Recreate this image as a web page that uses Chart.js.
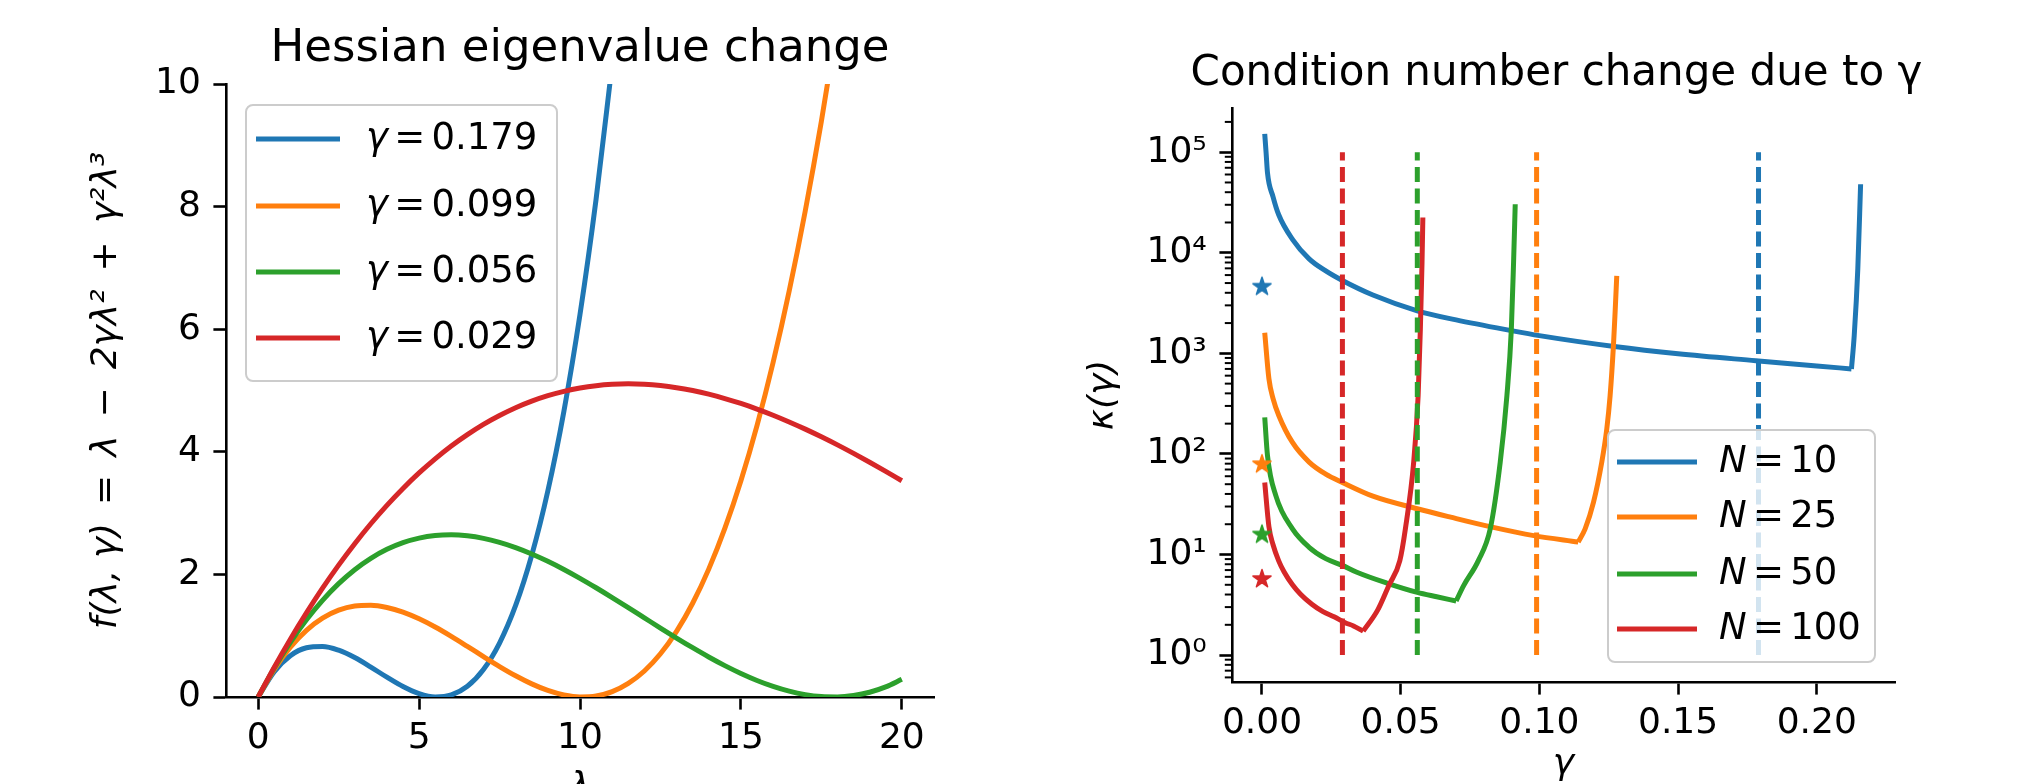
<!DOCTYPE html>
<html>
<head>
<meta charset="utf-8">
<script src="https://cdn.jsdelivr.net/npm/chart.js@4.4.1/dist/chart.umd.min.js"></script>
<style>
  html, body { margin: 0; padding: 0; background: #fff; }
  #wrap { position: relative; width: 2021px; height: 784px; overflow: hidden; }
  canvas { position: absolute; top: 0; }
</style>
</head>
<body>
<div id="wrap">
  <canvas id="left" width="1000" height="784" style="left:0px"></canvas>
  <!-- wider than the window so the title centres over the plot; the overflow is hidden -->
  <canvas id="right" width="1113" height="784" style="left:1000px"></canvas>
</div>
<script>
// ---- left panel: f(lambda, gamma), every 0.5 in lambda
var lam = [0,0.5,1,1.5,2,2.5,3,3.5,4,4.5,5,5.5,6,6.5,7,7.5,8,8.5,9,9.5,10,
           10.5,11,11.5,12,12.5,13,13.5,14,14.5,15,15.5,16,16.5,17,17.5,18,18.5,19,19.5,20];
var fG179 = [0,0.414,0.674,0.803,0.824,0.763,0.643,0.488,0.323,0.170,0.055,0.001,0.033,0.174,
             0.448,0.880,1.493,2.312,3.360,4.662,6.241,8.122,10.33];
var fG099 = [0,0.452,0.812,1.088,1.286,1.416,1.483,1.495,1.459,1.384,1.275,1.141,0.989,0.826,
             0.660,0.497,0.346,0.214,0.107,0.034,0.001,0.016,0.087,0.221,0.424,0.705,1.071,
             1.529,2.086,2.750,3.528,4.428,5.457,6.622,7.930,9.390,11.01];
var fG056 = [0,0.472,0.891,1.259,1.577,1.849,2.077,2.262,2.409,2.518,2.592,2.634,2.645,2.629,
             2.588,2.523,2.438,2.334,2.214,2.081,1.936,1.782,1.622,1.457,1.291,1.125,0.962,
             0.804,0.653,0.512,0.384,0.270,0.173,0.095,0.039,0.007,0.001,0.024,0.078,0.165,0.288];
var fG029 = [0,0.486,0.943,1.372,1.775,2.151,2.501,2.826,3.126,3.402,3.655,3.885,4.094,4.280,
             4.447,4.592,4.719,4.826,4.915,4.986,5.041,5.079,5.101,5.109,5.101,5.080,5.046,
             4.999,4.940,4.869,4.788,4.697,4.597,4.487,4.370,4.245,4.113,3.974,3.830,3.681,3.528];
var gammaLabels = ['0.179', '0.099', '0.056', '0.029'];
var lamTicks = [0, 5, 10, 15, 20];
var fTicks = [0, 2, 4, 6, 8, 10];

// ---- right panel: condition number kappa(gamma), log scale
var gN10  = [0.001,0.0015,0.002,0.004,0.006,0.011,0.017,0.023,0.029,0.04,0.056,0.07,0.09,0.1,
             0.127,0.15,0.178,0.2,0.2125,0.2135,0.2148,0.2158];
var kN10  = [152000,98000,62000,36000,24000,13600,8700,6600,5300,3800,2650,2150,1680,1500,
             1170,990,845,750,700,1500,7000,48000];
var gN25  = [0.001,0.0025,0.004,0.0061,0.011,0.017,0.023,0.029,0.04,0.056,0.068,0.083,0.098,
             0.114,0.1165,0.1195,0.1225,0.1243,0.1255,0.1267,0.1273,0.1279];
var kN25  = [1600,560,355,240,130,83,63,52,38,28.5,23.5,18.7,15.4,13.3,18,33,83,177,379,
             1190,2550,5900];
var gN50  = [0.001,0.002,0.005,0.011,0.017,0.023,0.029,0.034,0.045,0.056,0.063,0.070,0.0727,
             0.078,0.0823,0.0859,0.0883,0.0899,0.0907,0.0913];
var kN50  = [231,96,38.5,18,11.8,9.1,7.8,6.7,5.2,4.2,3.8,3.45,4.9,8.7,18,83,380,1740,8000,30400];
var gN100 = [0.001,0.0025,0.004,0.006,0.008,0.011,0.014,0.018,0.022,0.026,0.030,0.033,0.0365,
             0.0417,0.0457,0.0497,0.0517,0.0547,0.0563,0.0571,0.0577,0.058];
var kN100 = [52,19,12.5,8.7,6.7,5.0,4.0,3.2,2.7,2.4,2.1,1.95,1.73,2.8,4.9,8.7,18,83,380,1740,
             8000,22400];
var starKappa = [4600, 79, 15.8, 5.7];          // stars at gamma = 0
var vlineGamma = [0.179, 0.099, 0.056, 0.029];  // dashed lines, kappa 1 .. 1e5
var vlineKappa = [1, 100000];
var nLabels = ['10', '25', '50', '100'];
var gammaTicks = [0, 0.05, 0.10, 0.15, 0.20];
var kappaTicks = [1, 10, 100, 1000, 10000, 100000];
var kappaTickLabels = ['10\u2070', '10\u00b9', '10\u00b2', '10\u00b3', '10\u2074', '10\u2075'];

var colors = ['#1f77b4', '#ff7f0e', '#2ca02c', '#d62728'];
var FONT = "'DejaVu Sans', sans-serif";

function pts(xs, ys) {
  return ys.map(function (y, i) { return {x: xs[i], y: y}; });
}

// split a curve at its lowest point so the kink stays sharp
function splitAtMin(xs, ys) {
  var m = 0;
  for (var i = 1; i < ys.length; i++) if (ys[i] < ys[m]) m = i;
  var all = pts(xs, ys);
  return [all.slice(0, m + 1), all.slice(m)];
}

function starImage(color) {
  var c = document.createElement('canvas');
  c.width = 24; c.height = 24;
  var g = c.getContext('2d');
  g.beginPath();
  for (var k = 0; k < 10; k++) {
    var r = k % 2 === 0 ? 9.5 : 9.5 * 0.382;
    var a = -Math.PI / 2 + k * Math.PI / 5;
    g.lineTo(12 + r * Math.cos(a), 12 + r * Math.sin(a));
  }
  g.closePath();
  g.fillStyle = color; g.fill();
  g.strokeStyle = color; g.lineWidth = 1.5; g.lineJoin = 'round'; g.stroke();
  return c;
}

// matplotlib-like legend box drawn onto the canvas
var mplLegend = {
  id: 'mplLegend',
  afterDraw: function (chart, args, o) {
    var ctx = chart.ctx;
    ctx.save();
    ctx.beginPath();
    ctx.roundRect(o.x, o.y, o.w, o.h, 7);
    ctx.fillStyle = 'rgba(255,255,255,0.8)';
    ctx.fill();
    ctx.strokeStyle = '#cccccc';
    ctx.lineWidth = 2;
    ctx.stroke();
    var gap = o.size * 0.17;
    for (var i = 0; i < o.values.length; i++) {
      var y = o.rows[i];
      ctx.beginPath();
      ctx.strokeStyle = colors[i];
      ctx.lineWidth = 5;
      ctx.moveTo(o.h0, y); ctx.lineTo(o.h1, y);
      ctx.stroke();
      ctx.fillStyle = '#000';
      ctx.textBaseline = 'middle';
      ctx.textAlign = 'left';
      var x = o.tx;
      ctx.font = 'italic ' + o.size + 'px ' + FONT;
      ctx.fillText(o.symbol, x, y);
      x += ctx.measureText(o.symbol).width + gap;
      ctx.font = o.size + 'px ' + FONT;
      ctx.fillText('=', x, y);
      x += ctx.measureText('=').width + gap;
      ctx.fillText(o.values[i], x, y);
    }
    ctx.restore();
  }
};

var minorTicks = {
  id: 'minorTicks',
  afterDraw: function (chart) {
    var s = chart.scales.y, ctx = chart.ctx, left = chart.chartArea.left;
    ctx.save();
    ctx.strokeStyle = '#000';
    ctx.lineWidth = 2;
    for (var e = -1; e <= 5; e++) {
      for (var m = 2; m <= 9; m++) {
        var v = m * Math.pow(10, e);
        if (v < s.min || v > s.max) continue;
        var py = s.getPixelForValue(v);
        ctx.beginPath();
        ctx.moveTo(left - 7.2, py); ctx.lineTo(left, py);
        ctx.stroke();
      }
    }
    ctx.restore();
  }
};

function axisStyle() {
  return {
    grid: {drawOnChartArea: false, drawTicks: true, tickLength: 12.6, tickWidth: 2.6, tickColor: '#000'},
    border: {display: true, color: '#000', width: 2.6}
  };
}

// ---------------- left chart
var leftSets = [fG179, fG099, fG056, fG029].map(function (arr, i) {
  return {
    label: gammaLabels[i],
    data: pts(lam, arr),
    borderColor: colors[i],
    borderWidth: 5,
    pointRadius: 0,
    cubicInterpolationMode: 'monotone',
    borderJoinStyle: 'round',
    clip: 0,
    order: 3 - i
  };
});

var ax = axisStyle(), ay = axisStyle();
new Chart(document.getElementById('left'), {
  type: 'line',
  data: {datasets: leftSets},
  options: {
    responsive: false,
    animation: false,
    devicePixelRatio: 1,
    layout: {padding: {left: 0, top: 0, right: 66, bottom: 0}},
    plugins: {
      legend: {display: false},
      tooltip: {enabled: false},
      title: {
        display: true, text: 'Hessian eigenvalue change', fullSize: false, color: '#000',
        font: {family: FONT, size: 45, weight: 'normal'}, padding: {top: 22.4, bottom: 7.6}
      },
      mplLegend: {
        x: 246, y: 105, w: 311, h: 276, h0: 256, h1: 340, tx: 366,
        rows: [139, 206, 272, 338], size: 37, symbol: '\u03b3', values: gammaLabels
      }
    },
    scales: {
      x: {
        type: 'linear', min: -1, max: 21,
        afterBuildTicks: function (s) { s.ticks = lamTicks.map(function (v) { return {value: v}; }); },
        afterFit: function (s) { s.height = 87; },
        grid: ax.grid, border: ax.border,
        ticks: {color: '#000', font: {family: FONT, size: 36}, padding: 7, maxRotation: 0, autoSkip: false,
                callback: function (v) { return String(v); }},
        title: {display: true, text: '\u03bb', color: '#000',
                font: {family: FONT, size: 36, style: 'italic'}, padding: {top: 0, bottom: -25.6}}
      },
      y: {
        type: 'linear', min: 0, max: 10,
        afterBuildTicks: function (s) { s.ticks = fTicks.map(function (v) { return {value: v}; }); },
        afterFit: function (s) { s.width = 226; },
        grid: ay.grid, border: ay.border,
        ticks: {color: '#000', font: {family: FONT, size: 36}, padding: 12.6, autoSkip: false,
                callback: function (v) { return String(v); }},
        title: {display: true,
                text: 'f(\u03bb, \u03b3)\u2002=\u2002\u03bb\u2002\u2212\u20022\u03b3\u03bb\u00b2\u2002+\u2002\u03b3\u00b2\u03bb\u00b3',
                color: '#000', font: {family: FONT, size: 36, style: 'italic'}, padding: {top: 85.4, bottom: 0}}
      }
    }
  },
  plugins: [mplLegend]
});

// ---------------- right chart
var rightSets = [];
vlineGamma.forEach(function (g, i) {
  rightSets.push({
    data: [{x: g, y: vlineKappa[0]}, {x: g, y: vlineKappa[1]}],
    borderColor: colors[i], borderWidth: 5, borderDash: [15, 6.5], borderCapStyle: 'butt',
    pointRadius: 0, tension: 0, clip: 0, order: i
  });
});
starKappa.forEach(function (k, i) {
  rightSets.push({
    data: [{x: 0, y: k}],
    showLine: false, pointStyle: starImage(colors[i]), pointRadius: 9,
    borderColor: colors[i], backgroundColor: colors[i], clip: 0, order: 5
  });
});
[[gN10, kN10], [gN25, kN25], [gN50, kN50], [gN100, kN100]].forEach(function (p, i) {
  splitAtMin(p[0], p[1]).forEach(function (part, j) {
    rightSets.push({
      label: j === 0 ? nLabels[i] : '',
      data: part,
      borderColor: colors[i], borderWidth: 5, pointRadius: 0,
      cubicInterpolationMode: 'monotone', borderJoinStyle: 'round',
      clip: 0, order: 13 - i
    });
  });
});

var bx = axisStyle(), by = axisStyle();
new Chart(document.getElementById('right'), {
  type: 'line',
  data: {datasets: rightSets},
  options: {
    responsive: false,
    animation: false,
    devicePixelRatio: 1,
    layout: {padding: 0},
    plugins: {
      legend: {display: false},
      tooltip: {enabled: false},
      title: {
        display: true, text: 'Condition number change due to \u03b3', color: '#000',
        font: {family: FONT, size: 42, weight: 'normal'}, padding: {top: 48.6, bottom: 9}
      },
      mplLegend: {
        x: 608, y: 430, w: 267, h: 232, h0: 617, h1: 697, tx: 719,
        rows: [462, 517, 574, 629], size: 37, symbol: 'N', values: nLabels
      }
    },
    scales: {
      x: {
        type: 'linear', min: -0.0108, max: 0.2282,
        afterBuildTicks: function (s) { s.ticks = gammaTicks.map(function (v) { return {value: v}; }); },
        afterFit: function (s) { s.height = 102; },
        grid: bx.grid, border: bx.border,
        ticks: {color: '#000', font: {family: FONT, size: 36}, padding: 7, maxRotation: 0, autoSkip: false,
                callback: function (v) { return v.toFixed(2); }},
        title: {display: true, text: '\u03b3', color: '#000',
                font: {family: FONT, size: 36, style: 'italic'}, padding: {top: 0, bottom: -1.8}}
      },
      y: {
        type: 'logarithmic', min: 0.54, max: 275000,
        afterBuildTicks: function (s) { s.ticks = kappaTicks.map(function (v) { return {value: v, major: true}; }); },
        afterFit: function (s) { s.width = 232; },
        grid: by.grid, border: by.border,
        ticks: {color: '#000', font: {family: FONT, size: 36}, padding: 12.6, autoSkip: false,
                callback: function (v, i) { return kappaTickLabels[i]; }},
        title: {display: true, text: '\u03ba(\u03b3)', color: '#000',
                font: {family: FONT, size: 36, style: 'italic'}, padding: {top: 82.4, bottom: 0}}
      },
      // empty axis on the right: keeps the plot width while the title spans the whole canvas
      yPad: {
        type: 'linear', position: 'right', display: true,
        grid: {display: false}, border: {display: false}, ticks: {display: false},
        afterFit: function (s) { s.width = 218; }
      }
    }
  },
  plugins: [mplLegend, minorTicks]
});
</script>
</body>
</html>
